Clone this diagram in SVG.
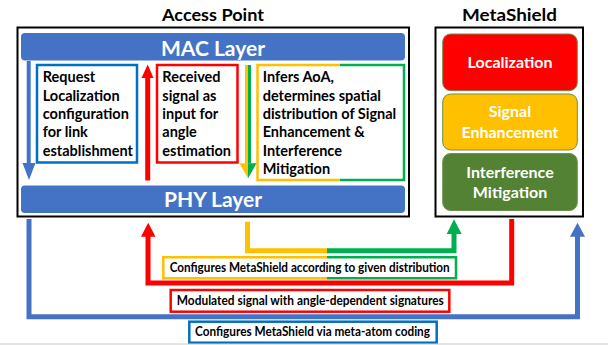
<svg xmlns="http://www.w3.org/2000/svg" width="608" height="345" viewBox="0 0 608 345">
  <style>
    .t{font-family:Lato,"Open Sans","DejaVu Sans",sans-serif;font-weight:bold}
    .title{font-size:17px;fill:#000;text-anchor:middle}
    .bar{fill:#4472C4}
    .barText{font-size:21px;fill:#fff;text-anchor:middle}
    .body{font-size:14.5px;fill:#000}
    .mod{stroke:#6E8F4A;stroke-width:1}
    .modText{font-size:16px;fill:#fff;text-anchor:middle}
    .lbl{font-size:12.5px;fill:#000;text-anchor:middle}
    .frame{fill:#fff;stroke:#000;stroke-width:2}
    .wire{fill:none;stroke-width:5;stroke-linejoin:miter}
    .edge{fill:none;stroke-width:2.5}
  </style>

  <rect width="608" height="345" fill="#fff"/>

  <!-- Access Point -->
  <g id="access-point">
    <text class="t title" x="213" y="20.7" textLength="102" lengthAdjust="spacingAndGlyphs">Access Point</text>
    <rect class="frame" x="17.5" y="27.5" width="391.5" height="189"/>
  </g>

  <g id="mac-layer">
    <rect class="bar" x="21" y="33" width="384" height="27.5" rx="4"/>
    <text class="t barText" x="213" y="55.5">MAC Layer</text>
  </g>

  <g id="phy-layer">
    <rect class="bar" x="21" y="185.5" width="384" height="27.5" rx="4"/>
    <text class="t barText" x="213" y="207">PHY Layer</text>
  </g>

  <g id="request-box">
    <rect class="edge" x="37" y="65" width="100" height="97.5" stroke="#0070C0" fill="#fff"/>
    <text class="t body">
      <tspan x="42.7" y="82.3">Request</tspan>
      <tspan x="42.7" y="100.6">Localization</tspan>
      <tspan x="42.7" y="118.9">configuration</tspan>
      <tspan x="42.7" y="137.2">for link</tspan>
      <tspan x="42.7" y="155.5">establishment</tspan>
    </text>
  </g>

  <g id="received-box">
    <rect class="edge" x="157" y="65" width="80.5" height="97.5" stroke="#FF0000" fill="#fff"/>
    <text class="t body">
      <tspan x="162.3" y="82.3">Received</tspan>
      <tspan x="162.3" y="100.6">signal as</tspan>
      <tspan x="162.3" y="118.9">input for</tspan>
      <tspan x="162.3" y="137.2">angle</tspan>
      <tspan x="162.3" y="155.5">estimation</tspan>
    </text>
  </g>

  <g id="infers-box">
    <rect x="257.5" y="65" width="146.5" height="115" fill="#fff"/>
    <path class="edge" stroke="#FFC000" d="M340,65 H257.5 V180 H340"/>
    <path class="edge" stroke="#00B050" d="M340,65 H404 V180 H340"/>
    <text class="t body">
      <tspan x="262.7" y="82.3">Infers AoA,</tspan>
      <tspan x="262.7" y="100.6">determines spatial</tspan>
      <tspan x="262.7" y="118.9">distribution of Signal</tspan>
      <tspan x="262.7" y="137.2">Enhancement &amp;</tspan>
      <tspan x="262.7" y="155.5">Interference</tspan>
      <tspan x="262.7" y="173.8">Mitigation</tspan>
    </text>
  </g>

  <!-- MetaShield -->
  <g id="metashield">
    <text class="t title" x="509.5" y="20.7" textLength="95" lengthAdjust="spacingAndGlyphs">MetaShield</text>
    <rect class="frame" x="435.5" y="27.5" width="147.5" height="189"/>
  </g>

  <g id="localization">
    <rect class="mod" x="442.7" y="34" width="134.6" height="56.7" rx="8" fill="#FF0000"/>
    <text class="t modText" x="510" y="67.7">Localization</text>
  </g>

  <g id="signal-enhancement">
    <rect class="mod" x="442.7" y="94" width="134.6" height="56" rx="8" fill="#FFC000"/>
    <text class="t modText" x="510" y="117.3">Signal</text>
    <text class="t modText" x="510" y="138.3">Enhancement</text>
  </g>

  <g id="interference-mitigation">
    <rect class="mod" x="442.7" y="153.5" width="134.6" height="57" rx="8" fill="#548235"/>
    <text class="t modText" x="510" y="177.7">Interference</text>
    <text class="t modText" x="510" y="198.3">Mitigation</text>
  </g>

  <!-- Connectors -->
  <g id="connectors">
    <!-- MAC to PHY: request -->
    <rect x="26.7" y="61" width="4" height="102.5" fill="#4472C4"/>
    <polygon points="22.5,163 35.5,163 29,180" fill="#4472C4"/>

    <!-- PHY to MAC: received signal -->
    <rect x="145.2" y="77.5" width="5" height="103" fill="#FF0000"/>
    <polygon points="141.5,78 153.5,78 147.7,64.5" fill="#FF0000"/>

    <!-- MAC to PHY: inferred distribution -->
    <rect x="245" y="65" width="3" height="98.5" fill="#FFC000"/>
    <rect x="248" y="65" width="3" height="98.5" fill="#00B050"/>
    <polygon points="239.5,163.3 248,163.3 248,178.5" fill="#FFC000"/>
    <polygon points="248,163.3 256.5,163.3 248,178.5" fill="#00B050"/>

    <!-- AP to MetaShield: meta-atom coding -->
    <path class="wire" stroke="#4472C4" d="M29,219 V316.8 H577.5 V236"/>
    <polygon points="570,236.7 585,236.7 577.5,222.7" fill="#4472C4"/>

    <!-- MetaShield to AP: modulated signal -->
    <path class="wire" stroke="#FF0000" d="M511.7,219 V283 H148 V236"/>
    <polygon points="141,236.7 155.5,236.7 148.2,222.7" fill="#FF0000"/>

    <!-- AP to MetaShield: distribution -->
    <path class="wire" stroke="#FFC000" d="M247.5,221.7 V250.8 H328"/>
    <path class="wire" stroke="#00B050" d="M327,250.8 H454 V233.5"/>
    <polygon points="446.7,234 461.7,234 454,219.3" fill="#00B050"/>

    <!-- connector labels -->
    <g id="label-distribution">
      <rect x="163.3" y="257.3" width="292.7" height="21" fill="#fff"/>
      <path class="edge" stroke="#FFC000" d="M327,257.3 H163.3 V278.3 H327"/>
      <path class="edge" stroke="#00B050" d="M327,257.3 H456 V278.3 H327"/>
      <text class="t lbl" x="309.7" y="271.8" textLength="280" lengthAdjust="spacingAndGlyphs">Configures MetaShield according to given distribution</text>
    </g>
    <g id="label-modulated">
      <rect class="edge" x="170.7" y="290" width="278.6" height="21.7" stroke="#FF0000" fill="#fff"/>
      <text class="t lbl" x="310.3" y="304.5" textLength="267" lengthAdjust="spacingAndGlyphs">Modulated signal with angle-dependent signatures</text>
    </g>
    <g id="label-coding">
      <rect class="edge" x="189.3" y="321.7" width="247.4" height="21" stroke="#0070C0" fill="#fff"/>
      <text class="t lbl" x="312.5" y="336" textLength="235" lengthAdjust="spacingAndGlyphs">Configures MetaShield via meta-atom coding</text>
    </g>
  </g>

  <line x1="0" y1="344" x2="608" y2="344" stroke="#C8C8C8" stroke-width="1"/>
</svg>
